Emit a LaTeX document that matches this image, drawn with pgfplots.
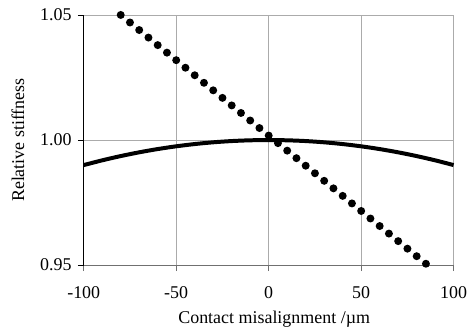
\documentclass[border=0pt]{standalone}
\usepackage{pgfplots}
\pgfplotsset{compat=1.18}
\usepackage{fontspec}
\setmainfont{Liberation Serif}
\definecolor{gridgray}{HTML}{ABABAB}
\definecolor{basegray}{HTML}{707070}
\begin{document}
\fontsize{18bp}{21bp}\selectfont
\begin{tikzpicture}
\begin{axis}[
  scale only axis,
  width=371bp, height=251bp,
  xmin=-100, xmax=100, ymin=0.95, ymax=1.05,
  axis x line*=bottom, axis y line*=left,
  axis line style={-},
  x axis line style={draw=basegray, line width=1.2bp},
  y axis line style={draw=black, line width=1bp},
  xtick={-100,-50,0,50,100},
  xticklabels={-100,-50,0,50,100},
  ytick={0.95,1.00,1.05},
  yticklabels={0.95,1.00,1.05},
  tick align=outside,
  major tick length=6bp,
  x tick style={draw=basegray, line width=1bp},
  y tick style={draw=black, line width=0.8bp},
  xmajorgrids, ymajorgrids,
  grid style={draw=gridgray, line width=0.9bp},
  tick label style={font=\fontsize{18bp}{21bp}\selectfont},
  xticklabel style={yshift=-9bp},
  label style={font=\fontsize{18bp}{21bp}\selectfont},
  xlabel={Contact misalignment /µm},
  ylabel={Relative stiffness},
  xlabel style={at={(axis description cs:0.515,-0.235)}, anchor=base},
  ylabel style={at={(axis description cs:-0.178,0.5)}, anchor=center},
  clip=false,
]
\addplot[black, line width=4bp, smooth] coordinates {
(-100,0.9900) (-90,0.9919) (-80,0.9936) (-70,0.9951) (-60,0.9964)
(-50,0.9975) (-40,0.9984) (-30,0.9991) (-20,0.9996) (-10,0.9999)
(0,1.0000) (10,0.9999) (20,0.9996) (30,0.9991) (40,0.9984)
(50,0.9975) (60,0.9964) (70,0.9951) (80,0.9936) (90,0.9919) (100,0.9900)
};
\addplot[black, line width=8bp, line cap=round, dash pattern=on 0bp off 11.97bp] coordinates {
(-80,1.0500) (86,0.9500)
};
\coordinate (sw) at (rel axis cs:0,0);
\coordinate (ne) at (rel axis cs:1,1);
\end{axis}
\path ([xshift=-84bp,yshift=-62bp]sw) rectangle ([xshift=18bp,yshift=15bp]ne);
\end{tikzpicture}
\end{document}
